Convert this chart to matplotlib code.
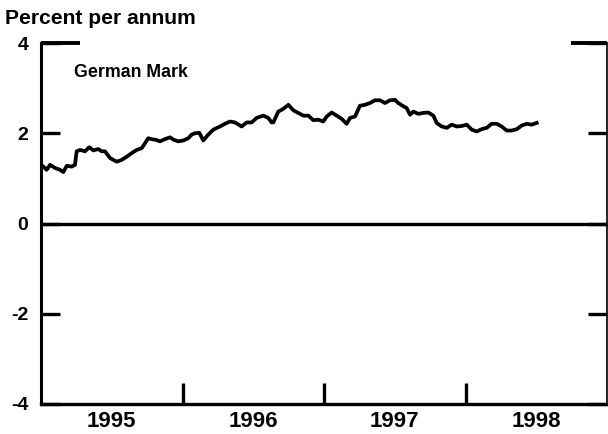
import matplotlib
matplotlib.use("Agg")
import matplotlib.pyplot as plt

# German Mark, percent per annum, dates as decimal years
years = [1995.016, 1995.040, 1995.064, 1995.099, 1995.134, 1995.158, 1995.182, 1995.217,
         1995.240, 1995.252, 1995.276, 1995.311, 1995.341, 1995.370, 1995.405, 1995.429,
         1995.452, 1995.488, 1995.535, 1995.570, 1995.606, 1995.641, 1995.676, 1995.712,
         1995.735, 1995.758, 1995.794, 1995.806, 1995.841, 1995.876, 1995.912, 1995.935,
         1995.970, 1996.006, 1996.041, 1996.065, 1996.088, 1996.119, 1996.147, 1996.182,
         1996.218, 1996.265, 1996.300, 1996.336, 1996.371, 1996.418, 1996.454, 1996.489,
         1996.524, 1996.571, 1996.606, 1996.630, 1996.642, 1996.677, 1996.712, 1996.748,
         1996.783, 1996.818, 1996.854, 1996.889, 1996.924, 1996.960, 1996.995, 1997.019,
         1997.054, 1997.090, 1997.125, 1997.160, 1997.184, 1997.219, 1997.254, 1997.290,
         1997.325, 1997.360, 1997.396, 1997.431, 1997.466, 1997.502, 1997.525, 1997.560,
         1997.584, 1997.608, 1997.631, 1997.666, 1997.702, 1997.737, 1997.773, 1997.796,
         1997.832, 1997.867, 1997.903, 1997.938, 1997.973, 1998.009, 1998.044, 1998.079,
         1998.114, 1998.150, 1998.185, 1998.220, 1998.256, 1998.291, 1998.326, 1998.362,
         1998.397, 1998.433, 1998.468, 1998.503]
rate = [1.26, 1.19, 1.30, 1.23, 1.19, 1.14, 1.28, 1.26,
        1.30, 1.60, 1.63, 1.60, 1.69, 1.62, 1.65, 1.60,
        1.60, 1.45, 1.37, 1.41, 1.48, 1.56, 1.63, 1.67,
        1.78, 1.89, 1.86, 1.86, 1.82, 1.87, 1.91, 1.86,
        1.82, 1.84, 1.89, 1.97, 2.00, 2.01, 1.84, 1.97,
        2.08, 2.15, 2.21, 2.26, 2.24, 2.15, 2.24, 2.24,
        2.34, 2.39, 2.34, 2.24, 2.24, 2.48, 2.54, 2.63,
        2.51, 2.45, 2.39, 2.39, 2.29, 2.30, 2.26, 2.37,
        2.46, 2.39, 2.32, 2.21, 2.34, 2.37, 2.61, 2.63,
        2.67, 2.73, 2.73, 2.67, 2.73, 2.74, 2.67, 2.60,
        2.56, 2.41, 2.48, 2.43, 2.45, 2.46, 2.39, 2.23,
        2.15, 2.12, 2.19, 2.15, 2.16, 2.19, 2.08, 2.04,
        2.09, 2.12, 2.21, 2.21, 2.15, 2.06, 2.06, 2.09,
        2.17, 2.21, 2.19, 2.23]

year_labels = ['1995', '1996', '1997', '1998']
label_pos = [1995.5, 1996.5, 1997.5, 1998.5]
year_ticks = [1996, 1997, 1998]
y_ticks = [-4, -2, 0, 2, 4]
y_labels = ['-4', '-2', '0', '2', '4']

plt.rcParams['font.family'] = ['Liberation Sans', 'DejaVu Sans']
plt.rcParams['font.weight'] = 'bold'

fig = plt.figure(figsize=(6.08, 4.34), dpi=100)
ax = fig.add_axes([41 / 608, 30 / 434, 566 / 608, 361 / 434])

ax.plot(years, rate, color='k', lw=2.7, solid_joinstyle='round')
ax.axhline(0, color='k', lw=2.4)

ax.set_xlim(1995, 1999)
ax.set_ylim(-4, 4)

# frame: heavy left/bottom, thin right, only stubs on top
ax.spines['top'].set_visible(False)
ax.spines['left'].set_linewidth(2.2)
ax.spines['bottom'].set_linewidth(2.4)
ax.spines['right'].set_linewidth(1.2)
for x0, x1 in [(0, 0.069), (0.936, 1.0)]:
    ax.plot([x0, x1], [1, 1], transform=ax.transAxes, color='k', lw=2.8,
            solid_capstyle='butt', clip_on=False)

ax.set_yticks(y_ticks)
ax.set_yticklabels(y_labels)
ax.tick_params(axis='y', direction='in', length=13.5, width=2.4,
               left=True, right=True, labelsize=14, pad=9)

ax.set_xticks(year_ticks)
ax.set_xticklabels([])
ax.set_xticks(label_pos, minor=True)
ax.set_xticklabels(year_labels, minor=True)
ax.tick_params(axis='x', which='major', direction='in', length=15, width=2.4)
ax.tick_params(axis='x', which='minor', length=0, labelsize=16, pad=5)

fig.text(5 / 608, 1 - 18 / 434, 'Percent per annum', fontsize=15.2, va='center')
ax.text(0.058, 0.917, 'German Mark', transform=ax.transAxes, fontsize=12.8, va='center')

fig.savefig('out.png', dpi=100)
